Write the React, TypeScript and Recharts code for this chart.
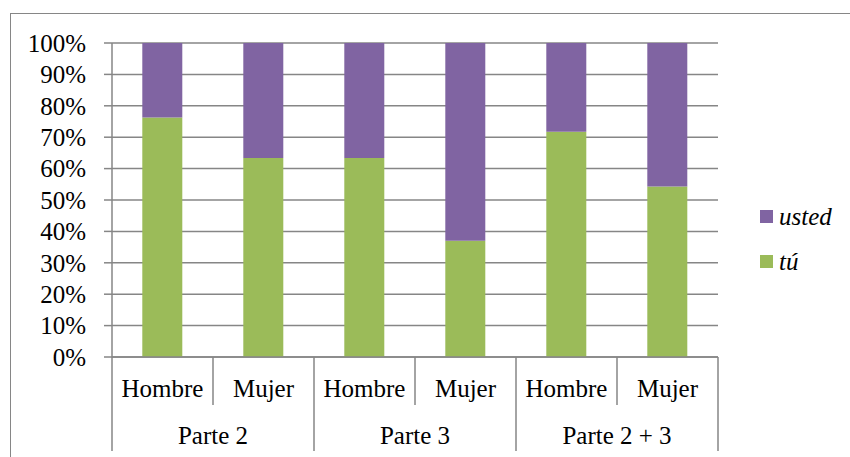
import React from "react";
import { Bar, BarChart, CartesianGrid, XAxis, YAxis } from "recharts";

const sexo = ["Hombre", "Mujer", "Hombre", "Mujer", "Hombre", "Mujer"];
const parte = ["Parte 2", "Parte 2", "Parte 3", "Parte 3", "Parte 2 + 3", "Parte 2 + 3"];
const tu = [76.3, 63.4, 63.4, 37.0, 71.7, 54.3];
const usted = [23.7, 36.6, 36.6, 63.0, 28.3, 45.7];
const yTicks = [0, 10, 20, 30, 40, 50, 60, 70, 80, 90, 100];

const PURPLE = "#8064A2";
const GREEN = "#9BBB59";
const LINE = "#868686";
const FONT = "'Liberation Serif', 'DejaVu Serif', serif";
const FS = 25;

const rows = sexo.map((s, i) => ({ sexo: s, parte: parte[i], tu: tu[i], usted: usted[i] }));

function halfBand(props: any) {
  if (props.payload && typeof props.payload.offset === "number" && props.payload.offset > 0) {
    return props.payload.offset;
  }
  return props.width / props.visibleTicksCount / 2;
}

// first level: Hombre / Mujer plus the separators
function SexoTick(props: any) {
  const { x, y, payload, index, visibleTicksCount } = props;
  const h = halfBand(props);
  const groupStart = index % 2 === 0;
  return (
    <g>
      <line x1={x - h} x2={x - h} y1={y} y2={y + (groupStart ? 94 : 48)} stroke={LINE} strokeWidth={1.5} />
      {index === visibleTicksCount - 1 && (
        <line x1={x + h} x2={x + h} y1={y} y2={y + 94} stroke={LINE} strokeWidth={1.5} />
      )}
      <text x={x} y={y + 40} textAnchor="middle" fontFamily={FONT} fontSize={FS} fill="#000">
        {payload.value}
      </text>
    </g>
  );
}

// second level: one label per pair
function ParteTick(props: any) {
  const { x, y, payload, index } = props;
  if (index % 2 !== 0) return <g />;
  const h = halfBand(props);
  return (
    <text x={x + h} y={y + 39} textAnchor="middle" fontFamily={FONT} fontSize={FS} fill="#000">
      {payload.value}
    </text>
  );
}

function PctTick(props: any) {
  const { x, y, payload } = props;
  return (
    <text x={x} y={y} dy="0.35em" textAnchor="end" fontFamily={FONT} fontSize={FS} fill="#000">
      {`${Math.round(payload.value * 100)}%`}
    </text>
  );
}

function LegendBox() {
  const items = [
    { label: "usted", color: PURPLE },
    { label: "tú", color: GREEN },
  ];
  return (
    <div style={{ position: "absolute", left: 760, top: 194 }}>
      {items.map((it) => (
        <div key={it.label} style={{ display: "flex", alignItems: "center", height: 45 }}>
          <span style={{ width: 13, height: 13, background: it.color, marginRight: 6 }} />
          <span style={{ fontFamily: FONT, fontSize: FS, fontStyle: "italic", color: "#000", lineHeight: 1 }}>
            {it.label}
          </span>
        </div>
      ))}
    </div>
  );
}

export default function App() {
  return (
    <div style={{ position: "relative", width: 850, height: 457, background: "#fff", overflow: "hidden", fontFamily: FONT }}>
      <style>{`body{margin:0}`}</style>
      <div
        style={{
          position: "absolute",
          left: 10,
          top: 13,
          width: 860,
          height: 500,
          borderTop: `1.5px solid ${LINE}`,
          borderLeft: `1.5px solid ${LINE}`,
          pointerEvents: "none",
        }}
      />
      <BarChart
        width={850}
        height={457}
        data={rows}
        margin={{ top: 43, right: 132, bottom: 0, left: 0 }}
        barCategoryGap="30%"
        stackOffset="expand"
        style={{ fontFamily: FONT }}
      >
        <CartesianGrid vertical={false} stroke={LINE} strokeWidth={1.5} />
        <XAxis
          dataKey="sexo"
          xAxisId={0}
          height={48}
          axisLine={{ stroke: LINE, strokeWidth: 1.5 }}
          tickLine={false}
          tickSize={0}
          tickMargin={0}
          interval={0}
          tick={<SexoTick />}
        />
        <XAxis
          dataKey="parte"
          xAxisId={1}
          height={52}
          axisLine={false}
          tickLine={false}
          tickSize={0}
          tickMargin={0}
          interval={0}
          allowDuplicatedCategory
          tick={<ParteTick />}
        />
        <YAxis
          width={112}
          ticks={yTicks.map((t) => t / 100)}
          domain={[0, 1]}
          interval={0}
          axisLine={{ stroke: LINE, strokeWidth: 1.5 }}
          tickLine={{ stroke: LINE, strokeWidth: 1.5 }}
          tickSize={8}
          tickMargin={18}
          tick={<PctTick />}
        />
        <Bar dataKey="tu" stackId="a" fill={GREEN} xAxisId={0} isAnimationActive={false} />
        <Bar dataKey="usted" stackId="a" fill={PURPLE} xAxisId={0} isAnimationActive={false} />
      </BarChart>
      <LegendBox />
    </div>
  );
}
